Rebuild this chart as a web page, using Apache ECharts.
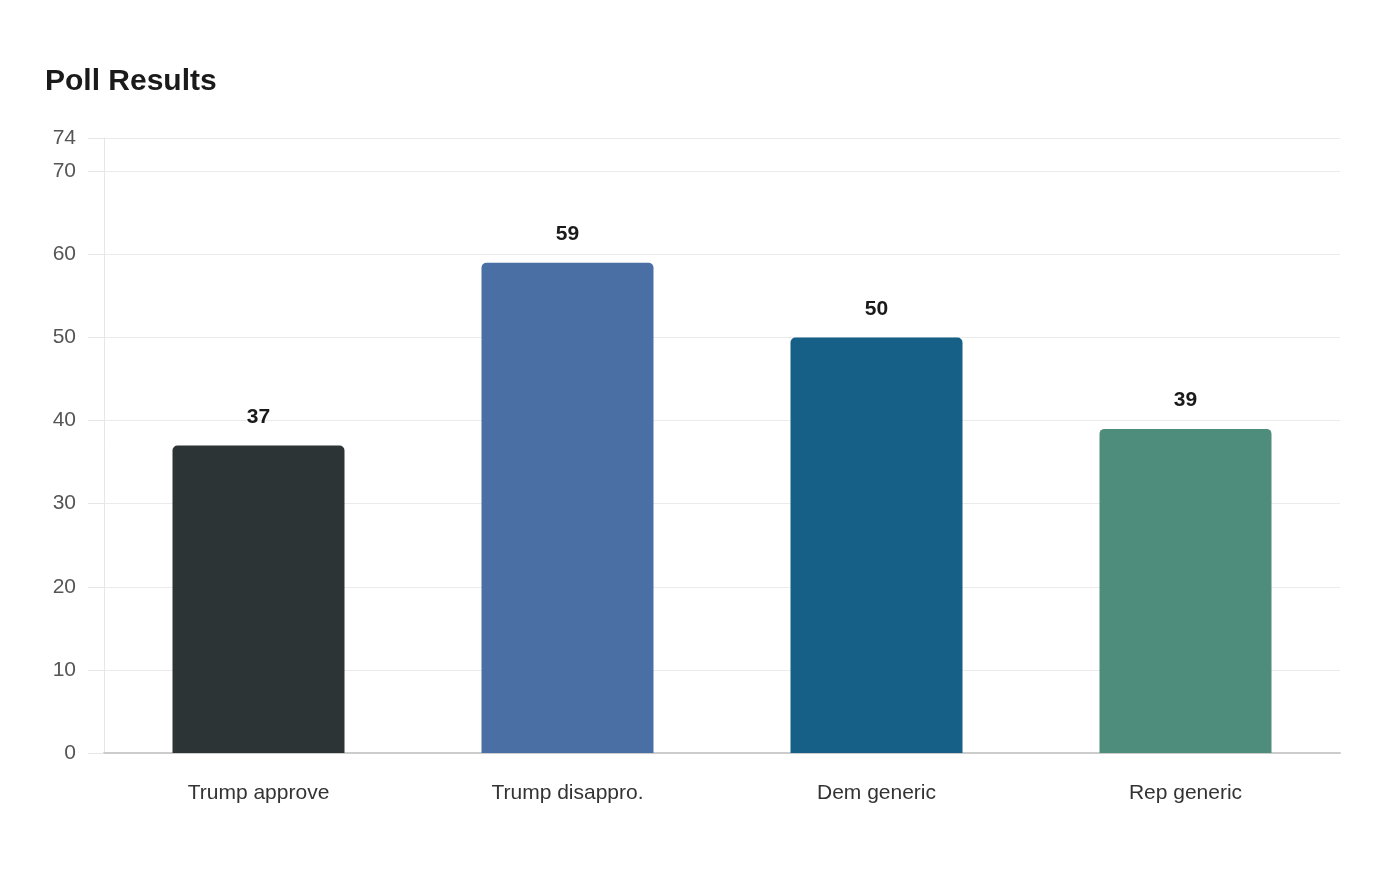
<!DOCTYPE html>
<html><head><meta charset="utf-8">
<script src="https://cdn.jsdelivr.net/npm/echarts@6/dist/echarts.min.js"></script>
<style>html,body{margin:0;padding:0;background:#fff}#c{width:1400px;height:880px}</style>
</head><body><div id="c"></div>
<script>
const categories = ["Trump approve","Trump disappro.","Dem generic","Rep generic"];
const values = [37,59,50,39];
const colors = ["#2d3436","#4a6fa5","#166088","#4e8d7c"];
const chart = echarts.init(document.getElementById('c'));
chart.setOption({
  animation:false,
  textStyle:{fontFamily:"Liberation Sans, Arial, sans-serif"},
  title:{text:"Poll Results",left:40,top:62,textStyle:{fontSize:30,fontWeight:"bold",color:"#1a1a1a",fontFamily:"Liberation Sans, Arial, sans-serif"}},
  grid:{left:104,right:60,top:138,bottom:127},
  xAxis:{type:"category",data:categories,axisTick:{show:false},
    axisLine:{lineStyle:{color:"#cccccc",width:2}},
    axisLabel:{color:"#333",fontSize:21,margin:30}},
  yAxis:{type:"value",min:0,max:74,interval:10,
    axisLine:{show:true,lineStyle:{color:"#e6e6e6"}},
    axisTick:{show:true,length:16,lineStyle:{color:"#e6e6e6"}},
    splitLine:{lineStyle:{color:"#ebebeb"}},
    axisLabel:{color:"#555",fontSize:21,margin:28,showMaxLabel:true}},
  series:[{type:"bar",barWidth:172,
    data:values.map((v,i)=>({value:v,itemStyle:{color:colors[i]}})),
    itemStyle:{borderRadius:[5,5,0,0]},
    label:{show:true,position:"top",distance:18,fontSize:21,fontWeight:"bold",color:"#1a1a1a"}}]
});
</script></body></html>
